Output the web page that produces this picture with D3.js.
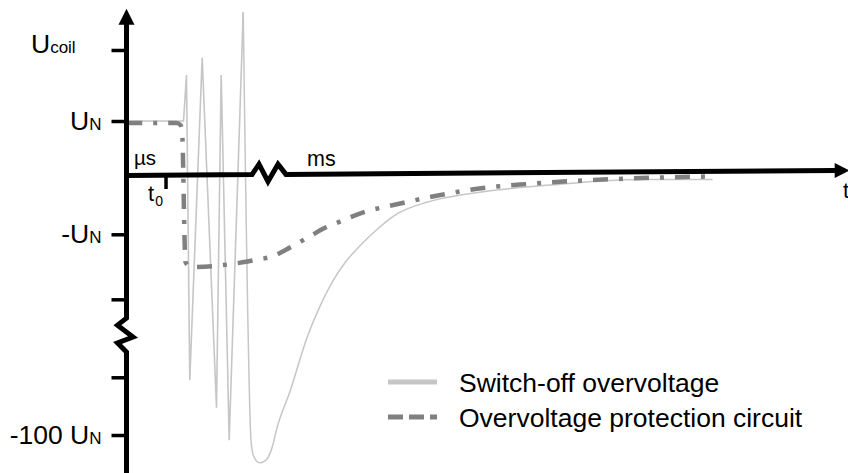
<!DOCTYPE html>
<html><head><meta charset="utf-8">
<script src="https://cdn.jsdelivr.net/npm/d3@7"></script>
<style>body{margin:0;background:#fff}svg{display:block}</style>
</head><body>
<svg id="chart" width="848" height="473"></svg>
<script>
// ---- data (schematic units: x = time, y = multiples of U_N) ----
const spikeX = [0, 7.92, 8.33, 8.79, 10.51, 12.5, 13.15, 14.26, 16.21];
const spikeY = [1.0, 1.0, 1.85, -3.80, 2.17, -4.31, 1.85, -4.91, 3.02];
const decayX = [16.21, 17.29, 17.5, 17.78, 18.19, 18.61, 19.17, 19.72, 20.28, 20.83, 22.78, 25.1, 26.94, 28.75, 30.42, 32.5, 34.86, 37.08, 41.81, 46.39, 53.33, 60.28, 65.83, 72.78, 81.39];
const decayY = [3.02, -4.91, -5.13, -5.24, -5.31, -5.33, -5.30, -5.22, -5.02, -4.72, -3.98, -3.0, -2.41, -1.94, -1.61, -1.30, -1.0, -0.76, -0.5, -0.37, -0.25, -0.17, -0.11, -0.083, -0.083];
const protX = [0.1, 6.94, 7.5, 7.71, 8.19, 8.89, 16.81, 18.61, 20.28, 22.08, 23.89, 25.56, 27.36, 29.31, 33.19, 37.08, 43.61, 49.58, 55.69, 61.94, 68.19, 74.17, 81.39];
const protY = [0.963, 0.963, 0.926, 0.833, -1.611, -1.704, -1.602, -1.556, -1.509, -1.389, -1.254, -1.13, -0.991, -0.883, -0.68, -0.556, -0.37, -0.241, -0.167, -0.111, -0.074, -0.046, -0.028];

const yTickVals = [2.315, 1, -1.098, -2.302, -3.746, -4.815];
const yTickMain = ["", "U", "-U", "", "", "-100 U"];
const yTickSub  = ["", "N", "N", "", "", "N"];
const xTickVals = [5.42];
const xTickMain = ["t"];
const xTickSub  = ["0"];

// axis lines with break marks (schematic units)
const yAxisLine = [[0, 2.8], [0, -2.65], [-1.25, -2.78], [0.9, -3.0], [-1.25, -3.11], [0, -3.28], [0, -5.6]];
const xAxisLine = [[0, -0.009], [17.43, 0.007], [18.4, 0.2], [19.65, -0.12], [21.04, 0.2], [22.15, 0.011], [98.5, 0.083]];

const seriesNames = ["Switch-off overvoltage", "Overvoltage protection circuit"];

// ---- drawing ----
const svg = d3.select("#chart");
const FONT = "'Liberation Sans', Arial, Helvetica, sans-serif";
const x = d3.scaleLinear().domain([0, 100]).range([126.5, 846.5]);
const y = d3.scaleLinear().domain([0, 1]).range([175, 121]);

const solidCol = "#c6c6c6", dashCol = "#808080";

const lineLin = d3.line().x(d => x(d[0])).y(d => y(d[1]));
const lineMono = d3.line().x(d => x(d[0])).y(d => y(d[1])).curve(d3.curveMonotoneX);

svg.append("path").datum(spikeX.map((v, i) => [v, spikeY[i]]))
  .attr("d", lineLin).attr("fill", "none").attr("stroke", solidCol)
  .attr("stroke-width", 1.6).attr("stroke-linejoin", "miter");
svg.append("path").datum(decayX.map((v, i) => [v, decayY[i]]))
  .attr("d", lineMono).attr("fill", "none").attr("stroke", solidCol)
  .attr("stroke-width", 1.5);
svg.append("path").datum(protX.map((v, i) => [v, protY[i]]))
  .attr("d", lineMono).attr("fill", "none").attr("stroke", dashCol)
  .attr("stroke-width", 4.5).attr("stroke-dasharray", "15,11,4,11");

// axis lines
svg.append("path").datum(yAxisLine).attr("d", lineLin).attr("fill", "none")
  .attr("stroke", "#000").attr("stroke-width", 5).attr("stroke-linejoin", "miter");
svg.append("path").datum(xAxisLine).attr("d", lineLin).attr("fill", "none")
  .attr("stroke", "#000").attr("stroke-width", 5).attr("stroke-linejoin", "miter");

// arrow heads
const yTop = [x(0), y(2.8)];
svg.append("path").attr("d", `M${yTop[0]-8},${yTop[1]+1}L${yTop[0]},${yTop[1]-15}L${yTop[0]+8},${yTop[1]+1}Z`).attr("fill", "#000");
const xEnd = [x(98.5), y(0.083)];
svg.append("path").attr("d", `M${xEnd[0]-1},${xEnd[1]-7.5}L${xEnd[0]+14},${xEnd[1]}L${xEnd[0]-1},${xEnd[1]+7.5}Z`).attr("fill", "#000");

// y ticks
const gy = svg.append("g").attr("transform", `translate(${x(0)},0)`)
  .call(d3.axisLeft(y).tickValues(yTickVals).tickSize(15).tickPadding(10).tickFormat(""));
gy.select(".domain").remove();
gy.selectAll(".tick line").attr("stroke", "#000").attr("stroke-width", 3.5);
gy.selectAll(".tick text").each(function(d, i) {
  const t = d3.select(this).attr("font-family", FONT).attr("font-size", 26.5).attr("fill", "#000").attr("dy", "0.32em");
  t.text(null);
  t.append("tspan").text(yTickMain[i]);
  t.append("tspan").attr("font-size", 17).text(yTickSub[i]);
});

// x tick (t0)
const gx = svg.append("g").attr("transform", `translate(0,${y(0) + 1})`)
  .call(d3.axisBottom(x).tickValues(xTickVals).tickSize(13).tickFormat(""));
gx.select(".domain").remove();
gx.selectAll(".tick line").attr("stroke", "#000").attr("stroke-width", 3.5);
gx.selectAll(".tick text").each(function(d, i) {
  const t = d3.select(this).attr("font-family", FONT).attr("font-size", 22).attr("fill", "#000")
    .attr("text-anchor", "start").attr("x", -18).attr("y", 25).attr("dy", null);
  t.text(null);
  t.append("tspan").text(xTickMain[i]);
  t.append("tspan").attr("font-size", 14).attr("dy", 5).attr("dx", 1).text(xTickSub[i]);
});

// annotations
const ann = svg.append("g").attr("font-family", FONT).attr("fill", "#000");
const title = ann.append("text").attr("x", 31).attr("y", 52.5).attr("font-size", 26.5);
title.append("tspan").text("U");
title.append("tspan").attr("font-size", 17).text("coil");
ann.append("text").attr("x", 134).attr("y", 164.5).attr("font-size", 20.5).text("µs");
ann.append("text").attr("x", 307).attr("y", 166).attr("font-size", 21.5).text("ms");
ann.append("text").attr("x", 843).attr("y", 198).attr("font-size", 22).text("t");

// legend
const leg = svg.append("g").attr("font-family", FONT);
const legY = [382, 417];
leg.append("line").attr("x1", 388).attr("x2", 437).attr("y1", legY[0]).attr("y2", legY[0])
  .attr("stroke", solidCol).attr("stroke-width", 5);
leg.append("line").attr("x1", 388).attr("x2", 437).attr("y1", legY[1]).attr("y2", legY[1])
  .attr("stroke", dashCol).attr("stroke-width", 5).attr("stroke-dasharray", "15,6");
seriesNames.forEach((n, i) => {
  leg.append("text").attr("x", 459).attr("y", legY[i] + 9.5).attr("font-size", 26.5).attr("fill", "#000").text(n);
});
</script>
</body></html>
